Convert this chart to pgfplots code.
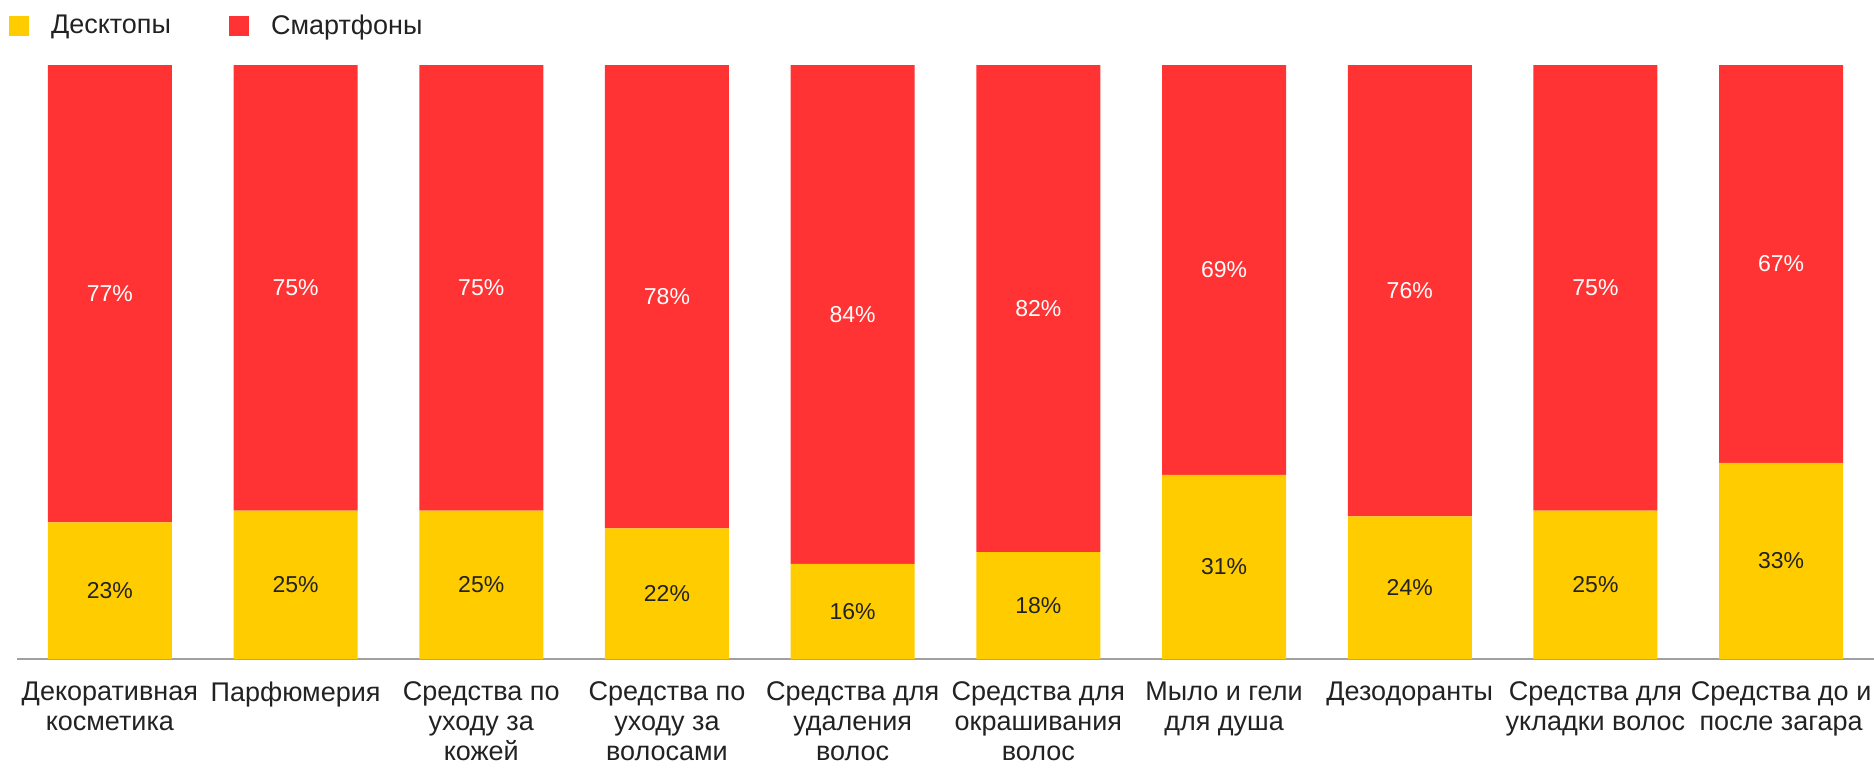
\documentclass[border=0pt]{standalone}
\usepackage{fontspec}
\setmainfont{Liberation Sans}
\usepackage{pgfplots}
\pgfplotsset{compat=1.18}
\usepackage{pgfplotstable}

\definecolor{desk}{HTML}{FFCC00}
\definecolor{mob}{HTML}{FF3333}
\definecolor{txt}{HTML}{222222}
\definecolor{axisgray}{HTML}{A0A0A0}

% shares of desktop / smartphone traffic, %
\pgfplotstableread{
x desk mob
0 23 77
1 25 75
2 25 75
3 22 78
4 16 84
5 18 82
6 31 69
7 24 76
8 25 75
9 33 67
}\shares

\begin{document}
\begin{tikzpicture}
\path[use as bounding box] (-8.5pt,-54.5pt) rectangle (928.5pt,329.5pt);
\begin{axis}[
    scale only axis,
    width=928.5pt, height=297pt,
    ybar stacked,
    bar width=62pt,
    xmin=-0.5, xmax=9.5,
    ymin=0, ymax=100,
    enlargelimits=false,
    axis y line=none,
    axis x line=bottom,
    x axis line style={-, draw=axisgray, line width=1pt},
    xtick={0,...,9},
    major tick length=0pt,
    xticklabels={
        {Декоративная\\косметика},
        {Парфюмерия},
        {Средства по\\уходу за\\кожей},
        {Средства по\\уходу за\\волосами},
        {Средства для\\удаления\\волос},
        {Средства для\\окрашивания\\волос},
        {Мыло и гели\\для душа},
        {Дезодоранты},
        {Средства для\\укладки волос},
        {Средства до и\\после загара}},
    xticklabel style={font=\fontsize{13.5}{15}\selectfont, align=center,
        text=txt, anchor=north, yshift=-8pt},
    legend columns=2,
    legend style={draw=none, fill=none, inner sep=0pt, outer sep=0pt,
        at={(0,1)}, anchor=west, xshift=-4pt, yshift=19.5pt,
        font=\fontsize{13.5}{15}\selectfont, text=txt,
        /tikz/every odd column/.append style={column sep=9pt},
        /tikz/every even column/.append style={column sep=27pt}},
    legend image code/.code={\fill[#1] (0pt,-5pt) rectangle (10pt,5pt);},
    point meta=rawy,
    % stacked bars put these in the middle of each segment
    nodes near coords={\pgfmathprintnumber[assume math mode=true]{\pgfplotspointmeta}\%},
    every node near coord/.append style={font=\fontsize{11.5}{13}\selectfont},
]
\addplot[fill=desk, draw=none,
    every node near coord/.append style={text=txt}]
    table[x=x, y=desk] {\shares};
\addlegendentry{Десктопы}
\addplot[fill=mob, draw=none,
    every node near coord/.append style={text=white}]
    table[x=x, y=mob] {\shares};
\addlegendentry{Смартфоны}
\end{axis}
\end{tikzpicture}
\end{document}
